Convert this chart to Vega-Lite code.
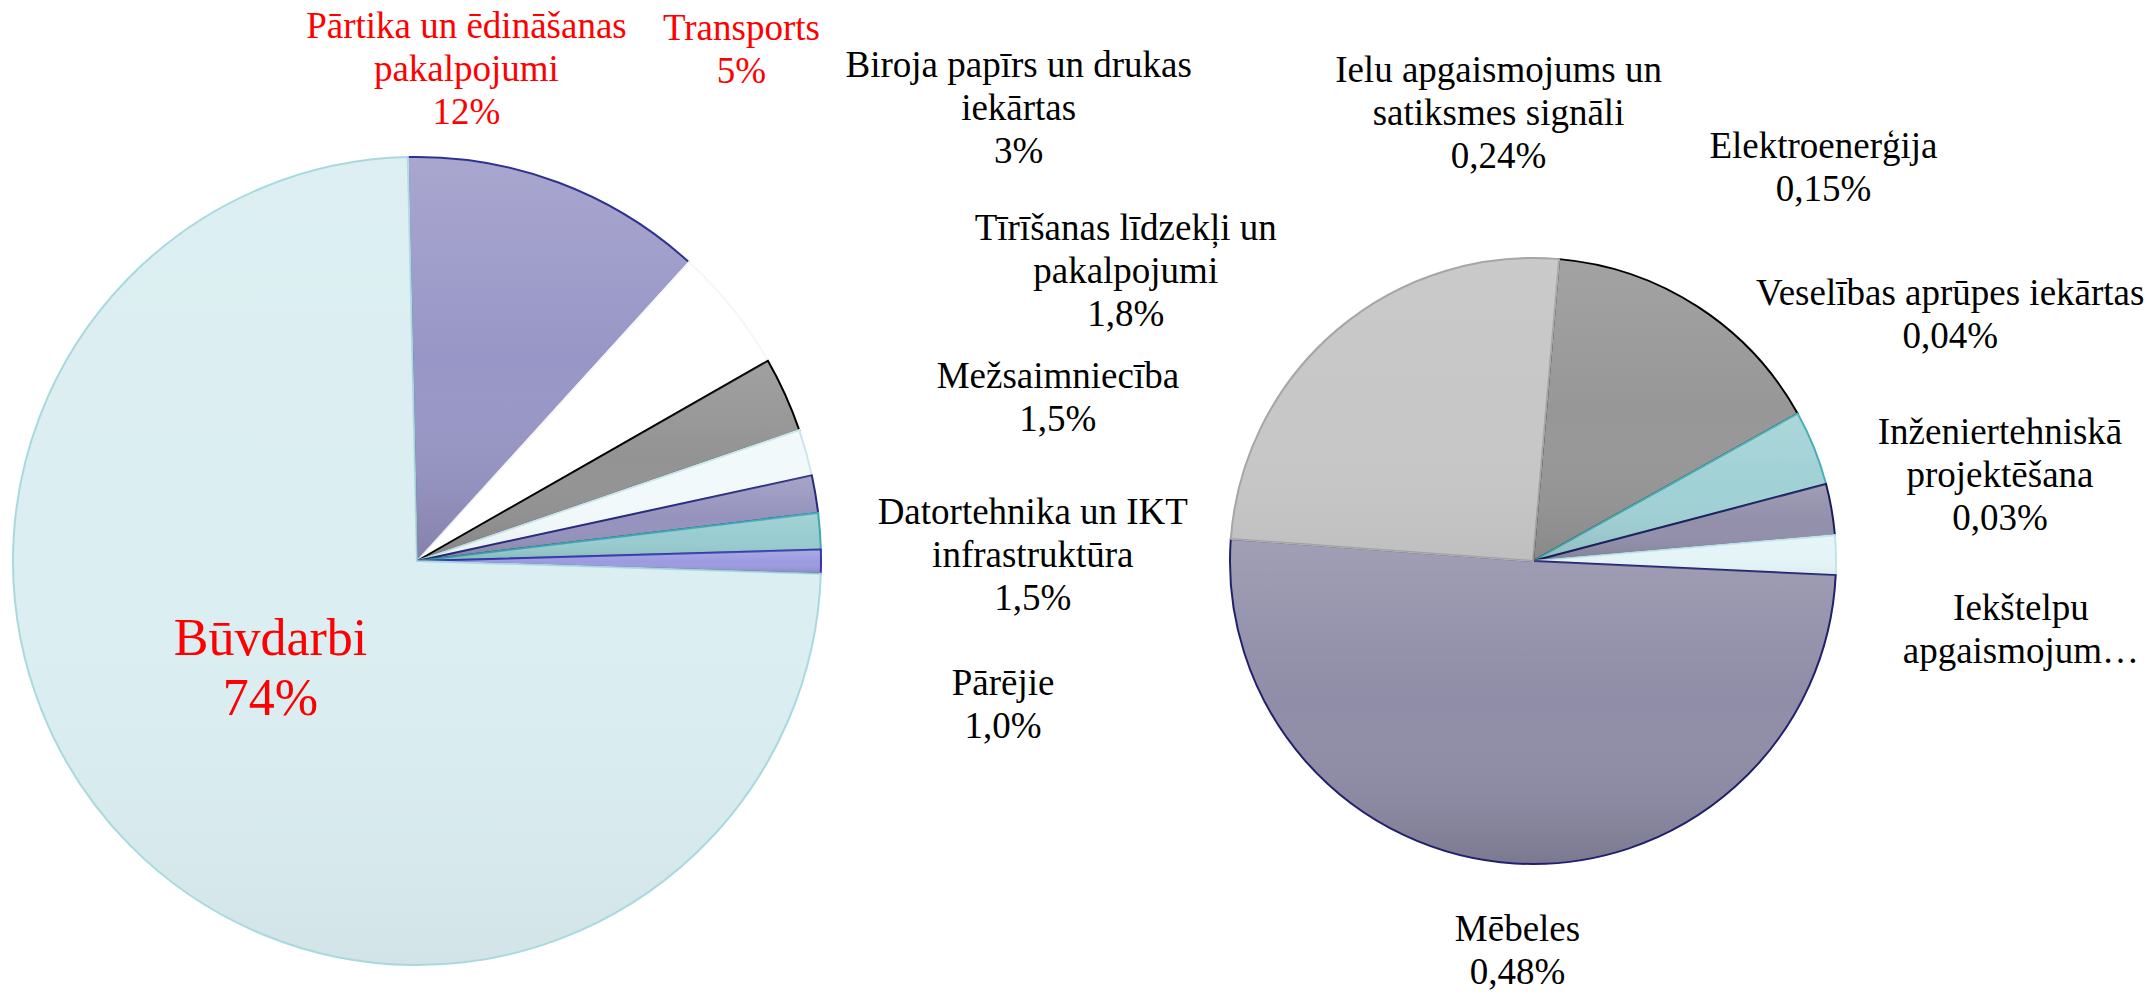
{
  "$schema": "https://vega.github.io/schema/vega-lite/v6.json",
  "width": 2154,
  "height": 872,
  "autosize": "none",
  "padding": {"left": 0, "right": 0, "top": 125, "bottom": 0},
  "background": "white",
  "config": {"view": {"stroke": null}, "text": {"font": "Liberation Serif, Times New Roman, serif"}},
  "data": {
    "values": [
      {"pie": "main", "ord": 1, "cat": "Pārtika un ēdināšanas pakalpojumi", "value": 12.1, "label": "Pārtika un ēdināšanas\npakalpojumi\n12%"},
      {"pie": "main", "ord": 2, "cat": "Transports", "value": 5.0, "label": "Transports\n5%"},
      {"pie": "main", "ord": 3, "cat": "Biroja papīrs un drukas iekārtas", "value": 3.0, "label": "Biroja papīrs un drukas\niekārtas\n3%"},
      {"pie": "main", "ord": 4, "cat": "Tīrīšanas līdzekļi un pakalpojumi", "value": 1.85, "label": "Tīrīšanas līdzekļi un\npakalpojumi\n1,8%"},
      {"pie": "main", "ord": 5, "cat": "Mežsaimniecība", "value": 1.5, "label": "Mežsaimniecība\n1,5%"},
      {"pie": "main", "ord": 6, "cat": "Datortehnika un IKT infrastruktūra", "value": 1.45, "label": "Datortehnika un IKT\ninfrastruktūra\n1,5%"},
      {"pie": "main", "ord": 7, "cat": "Pārējie", "value": 0.95, "label": "Pārējie\n1,0%"},
      {"pie": "main", "ord": 8, "cat": "Būvdarbi", "value": 74.1, "label": "Būvdarbi\n74%"},
      {"pie": "sub", "ord": 1, "cat": "Elektroenerģija", "value": 0.148, "label": "Elektroenerģija\n0,15%"},
      {"pie": "sub", "ord": 2, "cat": "Veselības aprūpes iekārtas", "value": 0.038, "label": "Veselības aprūpes iekārtas\n0,04%"},
      {"pie": "sub", "ord": 3, "cat": "Inženiertehniskā projektēšana", "value": 0.026, "label": "Inženiertehniskā\nprojektēšana\n0,03%"},
      {"pie": "sub", "ord": 4, "cat": "Iekštelpu apgaismojums", "value": 0.02, "label": "Iekštelpu\napgaismojum…"},
      {"pie": "sub", "ord": 5, "cat": "Mēbeles", "value": 0.48, "label": "Mēbeles\n0,48%"},
      {"pie": "sub", "ord": 6, "cat": "Ielu apgaismojums un satiksmes signāli", "value": 0.24, "label": "Ielu apgaismojums un\nsatiksmes signāli\n0,24%"}
    ]
  },
  "encoding": {
    "x": {"field": "pie", "type": "nominal", "scale": {"type": "point", "domain": ["main", "sub"], "padding": 0.465054, "align": 0.401734}, "axis": null}
  },
  "layer": [
    {
      "transform": [{"filter": "datum.pie === 'main'"}],
      "mark": {"type": "arc", "outerRadius": 404, "strokeWidth": 2},
      "encoding": {
        "theta": {"field": "value", "type": "quantitative", "stack": true, "scale": {"range": [-0.0227, 6.2605]}},
        "order": {"field": "ord", "type": "quantitative"},
        "fill": {"field": "cat", "type": "nominal", "legend": null, "scale": {
          "domain": ["Pārtika un ēdināšanas pakalpojumi", "Transports", "Biroja papīrs un drukas iekārtas", "Tīrīšanas līdzekļi un pakalpojumi", "Mežsaimniecība", "Datortehnika un IKT infrastruktūra", "Pārējie", "Būvdarbi"],
          "range": ["#9896c6", "#ffffff", "#939393", "#f1f9fb", "#9593bd", "#98ccd0", "#9c9be0", "#dbeef1"]}},
        "stroke": {"field": "cat", "type": "nominal", "legend": null, "scale": {
          "domain": ["Pārtika un ēdināšanas pakalpojumi", "Transports", "Biroja papīrs un drukas iekārtas", "Tīrīšanas līdzekļi un pakalpojumi", "Mežsaimniecība", "Datortehnika un IKT infrastruktūra", "Pārējie", "Būvdarbi"],
          "range": ["#2e3192", "#f6f6f6", "#000000", "#c9e6ea", "#26287e", "#3aa9b0", "#3535b0", "#a9d9de"]}}
      }
    },
    {
      "transform": [{"filter": "datum.pie === 'main'"}],
      "mark": {"type": "arc", "outerRadius": 403, "strokeWidth": 0, "fill": {"gradient": "linear", "x1": 0, "y1": 0, "x2": 0, "y2": 1, "stops": [{"offset": 0, "color": "rgba(255,255,255,0.16)"}, {"offset": 0.5, "color": "rgba(255,255,255,0)"}, {"offset": 1, "color": "rgba(0,0,0,0.14)"}]}},
      "encoding": {
        "theta": {"field": "value", "type": "quantitative", "stack": true, "scale": {"range": [-0.0227, 6.2605]}},
        "order": {"field": "ord", "type": "quantitative"},
        "fillOpacity": {"field": "cat", "type": "nominal", "legend": null, "scale": {"type": "ordinal",
          "domain": ["Pārtika un ēdināšanas pakalpojumi", "Transports", "Biroja papīrs un drukas iekārtas", "Tīrīšanas līdzekļi un pakalpojumi", "Mežsaimniecība", "Datortehnika un IKT infrastruktūra", "Pārējie", "Būvdarbi"],
          "range": [1, 0, 0.8, 0.3, 1, 0.8, 1, 0.3]}}
      }
    },
    {
      "transform": [{"filter": "datum.pie === 'sub'"}],
      "mark": {"type": "arc", "outerRadius": 303, "strokeWidth": 2},
      "encoding": {
        "theta": {"field": "value", "type": "quantitative", "stack": true, "scale": {"range": [0.0862, 6.3694]}},
        "order": {"field": "ord", "type": "quantitative"},
        "fill": {"field": "cat", "type": "nominal", "legend": null, "scale": {
          "domain": ["Elektroenerģija", "Veselības aprūpes iekārtas", "Inženiertehniskā projektēšana", "Iekštelpu apgaismojums", "Mēbeles", "Ielu apgaismojums un satiksmes signāli"],
          "range": ["#979797", "#a0d1d5", "#928fab", "#e5f5f7", "#8f8da7", "#c7c7c7"]}},
        "stroke": {"field": "cat", "type": "nominal", "legend": null, "scale": {
          "domain": ["Elektroenerģija", "Veselības aprūpes iekārtas", "Inženiertehniskā projektēšana", "Iekštelpu apgaismojums", "Mēbeles", "Ielu apgaismojums un satiksmes signāli"],
          "range": ["#000000", "#4aaeb6", "#1b1b5e", "#c2e4e8", "#20206e", "#a6a6a6"]}}
      }
    },
    {
      "transform": [{"filter": "datum.pie === 'sub'"}],
      "mark": {"type": "arc", "outerRadius": 302, "strokeWidth": 0, "fill": {"gradient": "linear", "x1": 0, "y1": 0, "x2": 0, "y2": 1, "stops": [{"offset": 0, "color": "rgba(255,255,255,0.16)"}, {"offset": 0.5, "color": "rgba(255,255,255,0)"}, {"offset": 1, "color": "rgba(0,0,0,0.14)"}]}},
      "encoding": {
        "theta": {"field": "value", "type": "quantitative", "stack": true, "scale": {"range": [0.0862, 6.3694]}},
        "order": {"field": "ord", "type": "quantitative"},
        "fillOpacity": {"field": "cat", "type": "nominal", "legend": null, "scale": {"type": "ordinal",
          "domain": ["Elektroenerģija", "Veselības aprūpes iekārtas", "Inženiertehniskā projektēšana", "Iekštelpu apgaismojums", "Mēbeles", "Ielu apgaismojums un satiksmes signāli"],
          "range": [0.7, 0.8, 0.8, 0.3, 1, 0.3]}}
      }
    },
    {
      "transform": [{"filter": "datum.pie === 'main'"}],
      "mark": {"type": "text", "radius": 444, "dx": -106, "dy": -107, "align": "center", "baseline": "alphabetic", "lineBreak": "\n", "fontSize": 37, "lineHeight": 43, "color": "#ff0000"},
      "encoding": {"theta": {"field": "value", "type": "quantitative", "stack": true, "scale": {"range": [-0.0227, 6.2605]}}, "order": {"field": "ord", "type": "quantitative"}, "text": {"condition": {"test": "datum.cat === 'Pārtika un ēdināšanas pakalpojumi'", "field": "label"}, "value": ""}}
    },
    {
      "transform": [{"filter": "datum.pie === 'main'"}],
      "mark": {"type": "text", "radius": 444, "dx": -22, "dy": -243, "align": "center", "baseline": "alphabetic", "lineBreak": "\n", "fontSize": 37, "lineHeight": 43, "color": "#ff0000"},
      "encoding": {"theta": {"field": "value", "type": "quantitative", "stack": true, "scale": {"range": [-0.0227, 6.2605]}}, "order": {"field": "ord", "type": "quantitative"}, "text": {"condition": {"test": "datum.cat === 'Transports'", "field": "label"}, "value": ""}}
    },
    {
      "transform": [{"filter": "datum.pie === 'main'"}],
      "mark": {"type": "text", "radius": 444, "dx": 197, "dy": -301, "align": "center", "baseline": "alphabetic", "lineBreak": "\n", "fontSize": 37, "lineHeight": 43, "color": "#000000"},
      "encoding": {"theta": {"field": "value", "type": "quantitative", "stack": true, "scale": {"range": [-0.0227, 6.2605]}}, "order": {"field": "ord", "type": "quantitative"}, "text": {"condition": {"test": "datum.cat === 'Biroja papīrs un drukas iekārtas'", "field": "label"}, "value": ""}}
    },
    {
      "transform": [{"filter": "datum.pie === 'main'"}],
      "mark": {"type": "text", "radius": 444, "dx": 281, "dy": -202, "align": "center", "baseline": "alphabetic", "lineBreak": "\n", "fontSize": 37, "lineHeight": 43, "color": "#000000"},
      "encoding": {"theta": {"field": "value", "type": "quantitative", "stack": true, "scale": {"range": [-0.0227, 6.2605]}}, "order": {"field": "ord", "type": "quantitative"}, "text": {"condition": {"test": "datum.cat === 'Tīrīšanas līdzekļi un pakalpojumi'", "field": "label"}, "value": ""}}
    },
    {
      "transform": [{"filter": "datum.pie === 'main'"}],
      "mark": {"type": "text", "radius": 444, "dx": 203, "dy": -99, "align": "center", "baseline": "alphabetic", "lineBreak": "\n", "fontSize": 37, "lineHeight": 43, "color": "#000000"},
      "encoding": {"theta": {"field": "value", "type": "quantitative", "stack": true, "scale": {"range": [-0.0227, 6.2605]}}, "order": {"field": "ord", "type": "quantitative"}, "text": {"condition": {"test": "datum.cat === 'Mežsaimniecība'", "field": "label"}, "value": ""}}
    },
    {
      "transform": [{"filter": "datum.pie === 'main'"}],
      "mark": {"type": "text", "radius": 444, "dx": 173, "dy": -4, "align": "center", "baseline": "alphabetic", "lineBreak": "\n", "fontSize": 37, "lineHeight": 43, "color": "#000000"},
      "encoding": {"theta": {"field": "value", "type": "quantitative", "stack": true, "scale": {"range": [-0.0227, 6.2605]}}, "order": {"field": "ord", "type": "quantitative"}, "text": {"condition": {"test": "datum.cat === 'Datortehnika un IKT infrastruktūra'", "field": "label"}, "value": ""}}
    },
    {
      "transform": [{"filter": "datum.pie === 'main'"}],
      "mark": {"type": "text", "radius": 444, "dx": 142, "dy": 133, "align": "center", "baseline": "alphabetic", "lineBreak": "\n", "fontSize": 37, "lineHeight": 43, "color": "#000000"},
      "encoding": {"theta": {"field": "value", "type": "quantitative", "stack": true, "scale": {"range": [-0.0227, 6.2605]}}, "order": {"field": "ord", "type": "quantitative"}, "text": {"condition": {"test": "datum.cat === 'Pārējie'", "field": "label"}, "value": ""}}
    },
    {
      "transform": [{"filter": "datum.pie === 'main'"}],
      "mark": {"type": "text", "radius": 150, "dx": -40, "dy": -12, "align": "center", "baseline": "alphabetic", "lineBreak": "\n", "fontSize": 52, "lineHeight": 60, "color": "#ff0000"},
      "encoding": {"theta": {"field": "value", "type": "quantitative", "stack": true, "scale": {"range": [-0.0227, 6.2605]}}, "order": {"field": "ord", "type": "quantitative"}, "text": {"condition": {"test": "datum.cat === 'Būvdarbi'", "field": "label"}, "value": ""}}
    },
    {
      "transform": [{"filter": "datum.pie === 'sub'"}],
      "mark": {"type": "text", "radius": 343, "dx": 104, "dy": -115, "align": "center", "baseline": "alphabetic", "lineBreak": "\n", "fontSize": 37, "lineHeight": 43, "color": "#000000"},
      "encoding": {"theta": {"field": "value", "type": "quantitative", "stack": true, "scale": {"range": [0.0862, 6.3694]}}, "order": {"field": "ord", "type": "quantitative"}, "text": {"condition": {"test": "datum.cat === 'Elektroenerģija'", "field": "label"}, "value": ""}}
    },
    {
      "transform": [{"filter": "datum.pie === 'sub'"}],
      "mark": {"type": "text", "radius": 343, "dx": 99, "dy": -128, "align": "center", "baseline": "alphabetic", "lineBreak": "\n", "fontSize": 37, "lineHeight": 43, "color": "#000000"},
      "encoding": {"theta": {"field": "value", "type": "quantitative", "stack": true, "scale": {"range": [0.0862, 6.3694]}}, "order": {"field": "ord", "type": "quantitative"}, "text": {"condition": {"test": "datum.cat === 'Veselības aprūpes iekārtas'", "field": "label"}, "value": ""}}
    },
    {
      "transform": [{"filter": "datum.pie === 'sub'"}],
      "mark": {"type": "text", "radius": 343, "dx": 129, "dy": -59, "align": "center", "baseline": "alphabetic", "lineBreak": "\n", "fontSize": 37, "lineHeight": 43, "color": "#000000"},
      "encoding": {"theta": {"field": "value", "type": "quantitative", "stack": true, "scale": {"range": [0.0862, 6.3694]}}, "order": {"field": "ord", "type": "quantitative"}, "text": {"condition": {"test": "datum.cat === 'Inženiertehniskā projektēšana'", "field": "label"}, "value": ""}}
    },
    {
      "transform": [{"filter": "datum.pie === 'sub'"}],
      "mark": {"type": "text", "radius": 343, "dx": 145, "dy": 66, "align": "center", "baseline": "alphabetic", "lineBreak": "\n", "fontSize": 37, "lineHeight": 43, "color": "#000000"},
      "encoding": {"theta": {"field": "value", "type": "quantitative", "stack": true, "scale": {"range": [0.0862, 6.3694]}}, "order": {"field": "ord", "type": "quantitative"}, "text": {"condition": {"test": "datum.cat === 'Iekštelpu apgaismojums'", "field": "label"}, "value": ""}}
    },
    {
      "transform": [{"filter": "datum.pie === 'sub'"}],
      "mark": {"type": "text", "radius": 343, "dx": 5, "dy": 38, "align": "center", "baseline": "alphabetic", "lineBreak": "\n", "fontSize": 37, "lineHeight": 43, "color": "#000000"},
      "encoding": {"theta": {"field": "value", "type": "quantitative", "stack": true, "scale": {"range": [0.0862, 6.3694]}}, "order": {"field": "ord", "type": "quantitative"}, "text": {"condition": {"test": "datum.cat === 'Mēbeles'", "field": "label"}, "value": ""}}
    },
    {
      "transform": [{"filter": "datum.pie === 'sub'"}],
      "mark": {"type": "text", "radius": 343, "dx": 188, "dy": -218, "align": "center", "baseline": "alphabetic", "lineBreak": "\n", "fontSize": 37, "lineHeight": 43, "color": "#000000"},
      "encoding": {"theta": {"field": "value", "type": "quantitative", "stack": true, "scale": {"range": [0.0862, 6.3694]}}, "order": {"field": "ord", "type": "quantitative"}, "text": {"condition": {"test": "datum.cat === 'Ielu apgaismojums un satiksmes signāli'", "field": "label"}, "value": ""}}
    }
  ],
  "resolve": {"scale": {"theta": "independent", "fill": "independent", "stroke": "independent", "fillOpacity": "independent"}}
}
